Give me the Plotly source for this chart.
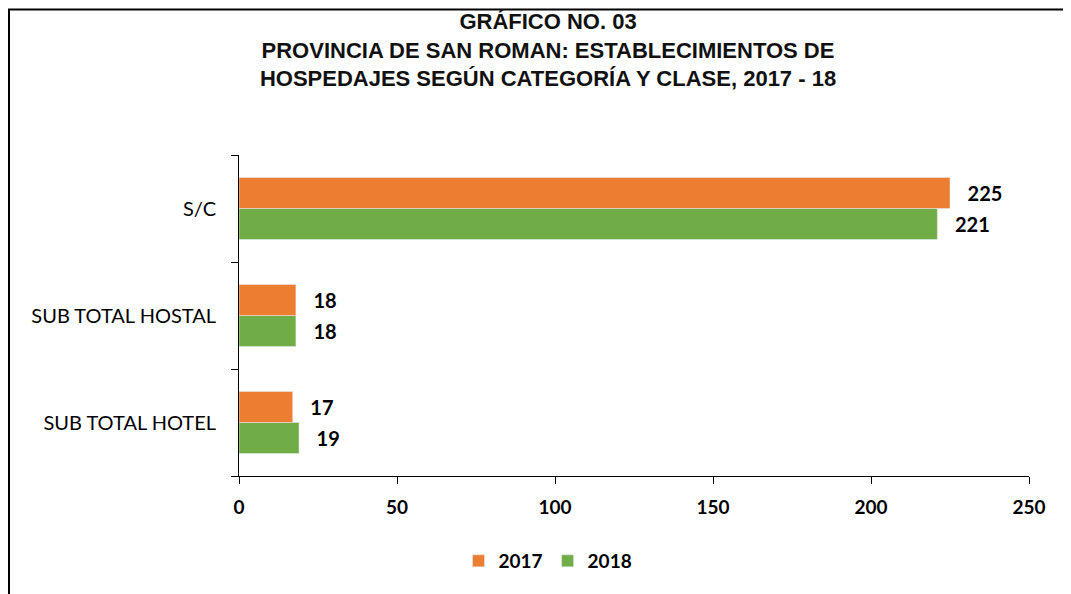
import plotly.graph_objects as go

categories = ["SUB TOTAL HOTEL", "SUB TOTAL HOSTAL", "S/C"]
values_2017 = [17, 18, 225]
values_2018 = [19, 18, 221]
x_ticks = [0, 50, 100, 150, 200, 250]
title_lines = ["GRÁFICO NO. 03",
               "PROVINCIA DE SAN ROMAN: ESTABLECIMIENTOS DE",
               "HOSPEDAJES SEGÚN CATEGORÍA Y CLASE, 2017 - 18"]

# page is rendered with an 8px body margin
W, H = 1063, 586
L, R, T, B = 231, 42, 147, 118
PW, PH = W - L - R, H - T - B

def px(xp):
    return (xp - L) / PW

def py(yp):
    return (H - B - yp) / PH

bold_font = dict(family="Lato, sans-serif", size=20, color="black", weight="bold")

fig = go.Figure()
fig.add_trace(go.Bar(
    y=categories, x=values_2018, name="2018", orientation="h",
    marker=dict(color="#70AD47"),
    text=values_2018, texttemplate="   %{x}", textposition="outside",
    textfont=bold_font, cliponaxis=False,
))
fig.add_trace(go.Bar(
    y=categories, x=values_2017, name="2017", orientation="h",
    marker=dict(color="#ED7D31"),
    text=values_2017, texttemplate="   %{x}", textposition="outside",
    textfont=bold_font, cliponaxis=False,
))

fig.update_layout(
    width=W, height=H,
    margin=dict(l=L, r=R, t=T, b=B),
    paper_bgcolor="white", plot_bgcolor="white",
    barmode="group", bargap=0.42, bargroupgap=0,
    title=dict(
        text="<b>" + "<br>".join(title_lines) + "</b>",
        x=px(540), xanchor="center", xref="paper",
        y=1 - 21 / H, yanchor="middle",
        font=dict(family="Liberation Sans, Arial, sans-serif", size=22, color="#111111"),
    ),
    showlegend=True,
    legend=dict(
        orientation="h", traceorder="reversed",
        x=px(540), xanchor="center", y=py(553), yanchor="middle",
        font=dict(family="Lato, sans-serif", size=19, color="black", weight="bold"),
    ),
    xaxis=dict(
        range=[0, 250], tickvals=x_ticks, ticktext=[str(v) for v in x_ticks],
        showgrid=False, zeroline=False,
        showline=True, linecolor="black", linewidth=1,
        ticks="outside", ticklen=7, tickcolor="black",
        tickfont=dict(family="Lato, sans-serif", size=19, color="black", weight="bold"),
        ticklabelstandoff=7,
    ),
    yaxis=dict(
        range=[-0.5, 2.5], type="category",
        showgrid=False, zeroline=False,
        showline=True, linecolor="black", linewidth=1,
        ticks="outside", ticklen=7, tickcolor="black", tickson="boundaries",
        tickfont=dict(family="Lato, Calibri, sans-serif", size=20, color="black"),
        ticklabelstandoff=18,
    ),
    shapes=[
        dict(type="line", xref="paper", yref="paper",
             x0=px(1), x1=px(1), y0=py(1.5), y1=py(H + 5),
             line=dict(color="black", width=2)),
        dict(type="line", xref="paper", yref="paper",
             x0=px(0), x1=px(W + 5), y0=py(1.5), y1=py(1.5),
             line=dict(color="black", width=2)),
    ],
)

fig.write_html("out.html")
